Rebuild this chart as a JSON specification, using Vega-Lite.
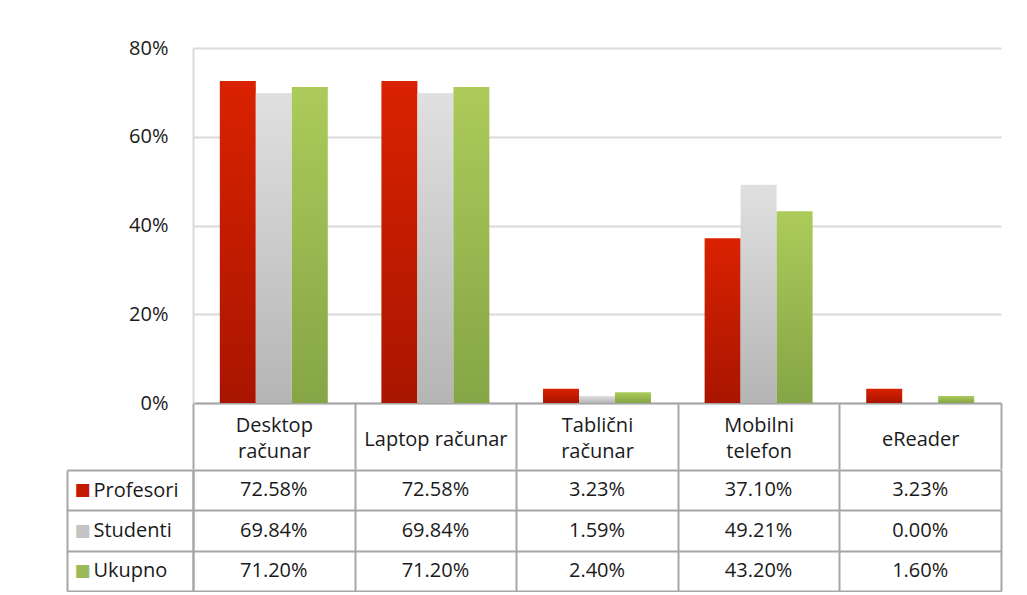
{
  "$schema": "https://vega.github.io/schema/vega-lite/v6.json",
  "padding": {"left": 66, "top": 38, "right": 5, "bottom": 0},
  "background": "white",
  "spacing": -11,
  "config": {"view": {"stroke": null}, "font": "Open Sans"},
  "datasets": {
    "d": [
      {"category": "Desktop računar", "series": "Profesori", "value": 0.7258},
      {"category": "Laptop računar", "series": "Profesori", "value": 0.7258},
      {"category": "Tablični računar", "series": "Profesori", "value": 0.0323},
      {"category": "Mobilni telefon", "series": "Profesori", "value": 0.3710},
      {"category": "eReader", "series": "Profesori", "value": 0.0323},
      {"category": "Desktop računar", "series": "Studenti", "value": 0.6984},
      {"category": "Laptop računar", "series": "Studenti", "value": 0.6984},
      {"category": "Tablični računar", "series": "Studenti", "value": 0.0159},
      {"category": "Mobilni telefon", "series": "Studenti", "value": 0.4921},
      {"category": "eReader", "series": "Studenti", "value": 0.0},
      {"category": "Desktop računar", "series": "Ukupno", "value": 0.7120},
      {"category": "Laptop računar", "series": "Ukupno", "value": 0.7120},
      {"category": "Tablični računar", "series": "Ukupno", "value": 0.0240},
      {"category": "Mobilni telefon", "series": "Ukupno", "value": 0.4320},
      {"category": "eReader", "series": "Ukupno", "value": 0.0160}
    ]
  },
  "vconcat": [
    {
      "width": 808,
      "height": 355,
      "data": {"name": "d"},
      "mark": {"type": "bar"},
      "encoding": {
        "x": {
          "field": "category", "type": "nominal",
          "sort": ["Desktop računar", "Laptop računar", "Tablični računar", "Mobilni telefon", "eReader"],
          "scale": {"paddingInner": 0, "paddingOuter": 0},
          "axis": {
            "title": null, "grid": false, "labelAngle": 0,
            "domainColor": "#a6a6a6", "domainWidth": 2,
            "tickBand": "extent", "tickSize": 66, "tickColor": "#a6a6a6", "tickWidth": 2,
            "labelFont": "Open Sans", "labelFontSize": 20, "labelColor": "#1a1a1a",
            "labelBaseline": "middle", "labelLineHeight": 26, "labelLimit": 0,
            "labelPadding": {"condition": {"test": "datum.value == 'Laptop računar' || datum.value == 'eReader'", "value": -30}, "value": -44},
            "labelExpr": "datum.label == 'Laptop računar' ? datum.label : split(datum.label, ' ')"
          }
        },
        "xOffset": {
          "field": "series", "type": "nominal",
          "sort": ["Profesori", "Studenti", "Ukupno"],
          "scale": {"paddingInner": 0, "paddingOuter": 0.745}
        },
        "y": {
          "field": "value", "type": "quantitative",
          "scale": {"domain": [0, 0.8], "nice": false},
          "axis": {
            "title": null, "format": "%", "values": [0, 0.2, 0.4, 0.6, 0.8],
            "grid": true, "gridColor": "#dadada", "gridWidth": 2,
            "domainColor": "#dadada", "domainWidth": 2, "ticks": false,
            "labelPadding": 25, "labelFont": "Open Sans", "labelFontSize": 20, "labelColor": "#1a1a1a"
          }
        },
        "fill": {
          "condition": [
            {"test": "datum.series === 'Profesori'", "value": {"gradient": "linear", "x1": 0, "y1": 0, "x2": 0, "y2": 1, "stops": [{"offset": 0, "color": "#d92200"}, {"offset": 1, "color": "#a91500"}]}},
            {"test": "datum.series === 'Studenti'", "value": {"gradient": "linear", "x1": 0, "y1": 0, "x2": 0, "y2": 1, "stops": [{"offset": 0, "color": "#e0e0e0"}, {"offset": 1, "color": "#b5b5b5"}]}}
          ],
          "value": {"gradient": "linear", "x1": 0, "y1": 0, "x2": 0, "y2": 1, "stops": [{"offset": 0, "color": "#accb5a"}, {"offset": 1, "color": "#86a546"}]}
        }
      }
    },
    {
      "width": 808,
      "height": 121,
      "data": {"name": "d"},
      "layer": [
        {
          "mark": {"type": "text", "fontSize": 20, "color": "#1a1a1a", "font": "Open Sans"},
          "encoding": {
            "x": {
              "field": "category", "type": "nominal",
              "sort": ["Desktop računar", "Laptop računar", "Tablični računar", "Mobilni telefon", "eReader"],
              "scale": {"paddingInner": 0, "paddingOuter": 0},
              "axis": {"title": null, "orient": "bottom", "labels": false, "ticks": false, "domain": false, "minExtent": 0, "grid": true, "tickBand": "extent", "gridColor": "#a6a6a6", "gridWidth": 2}
            },
            "y": {
              "field": "series", "type": "nominal",
              "sort": ["Profesori", "Studenti", "Ukupno"],
              "axis": {
                "title": null, "orient": "left", "grid": true, "tickBand": "extent",
                "gridColor": "#a6a6a6", "gridWidth": 2,
                "tickSize": 126, "tickColor": "#a6a6a6", "tickWidth": 2,
                "domainColor": "#a6a6a6", "domainWidth": 2,
                "labelAlign": "left", "labelPadding": -26, "labelFont": "Open Sans", "labelFontSize": 20, "labelColor": "#1a1a1a"
              }
            },
            "text": {"field": "value", "type": "quantitative", "format": ".2%"}
          }
        },
        {
          "mark": {"type": "text", "text": ""},
          "encoding": {
            "y": {
              "field": "series", "type": "nominal",
              "sort": ["Profesori", "Studenti", "Ukupno"],
              "axis": {
                "title": null, "orient": "left", "offset": 126, "ticks": false, "grid": false,
                "domainColor": "#a6a6a6", "domainWidth": 2,
                "labelExpr": "'■'", "labelAlign": "left", "labelPadding": -7,
                "labelFont": "DejaVu Sans", "labelFontSize": 17,
                "labelColor": {"condition": [{"test": "datum.value === 'Profesori'", "value": "#c41a00"}, {"test": "datum.value === 'Studenti'", "value": "#c4c4c4"}], "value": "#9bbb59"}
              }
            }
          }
        }
      ],
      "resolve": {"axis": {"y": "independent"}}
    }
  ]
}
